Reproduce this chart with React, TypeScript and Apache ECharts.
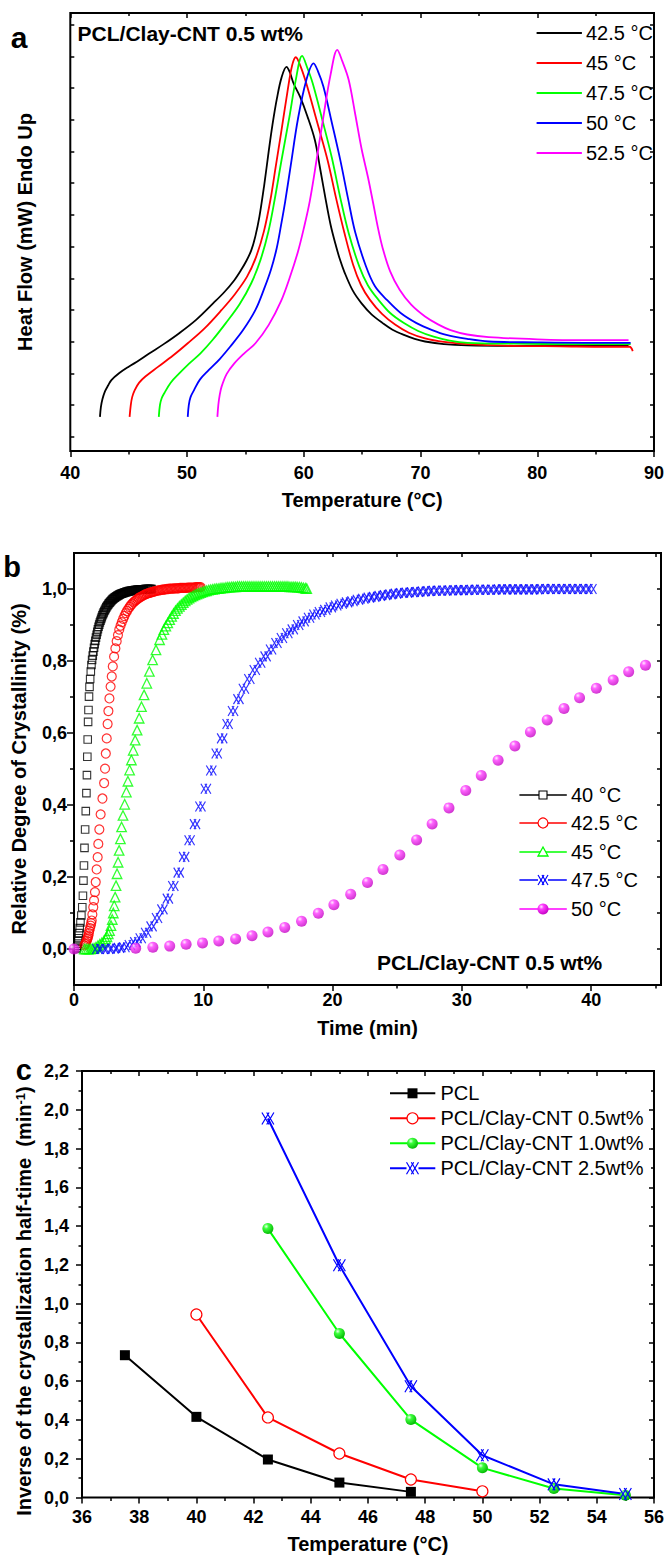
import React, { useEffect, useRef } from 'react';
import * as echarts from 'echarts';

const FONT = "'Liberation Sans', Arial, Helvetica, sans-serif";

// ---------- Panel a : DSC curves (arbitrary heat-flow units) ----------
const aNames = ['42.5 °C', '45 °C', '47.5 °C', '50 °C', '52.5 °C'];
const aColors = ['#000000', '#ff0000', '#00ff00', '#0000ff', '#ff00ff'];
const dsc425 = [[42.54,7.8],[42.62,10.0],[42.75,11.8],[42.97,13.6],[43.25,15.0],[43.52,16.2],[44.2,17.8],[44.97,19.2],[45.9,20.7],[46.79,22.3],[48.0,24.4],[49.33,26.9],[50.8,30.0],[52.23,33.7],[53.2,36.3],[54.05,39.0],[54.6,41.2],[55.1,43.5],[55.5,45.8],[55.85,49.0],[56.2,53.5],[56.6,60.5],[57.0,68.5],[57.32,74.5],[57.7,80.5],[58.1,85.3],[58.52,87.7],[58.8,86.5],[59.13,83.9],[59.68,80.9],[60.3,76.5],[60.95,71.0],[61.4,64.5],[61.85,57.8],[62.3,51.6],[62.76,46.8],[63.1,43.7],[63.49,40.8],[64.2,36.6],[64.95,33.7],[65.8,31.2],[66.76,29.2],[67.6,27.7],[68.58,26.5],[69.5,25.6],[70.39,25.0],[72.0,24.4],[74.02,24.1],[78.0,24.0],[82.0,24.0],[87.82,24.0]];
const dsc45 = [[45.08,7.8],[45.18,10.5],[45.3,12.3],[45.52,13.9],[45.9,15.6],[46.43,17.0],[47.51,19.2],[48.8,21.8],[50.06,24.6],[51.5,28.0],[52.96,32.2],[54.1,35.8],[55.14,39.8],[55.9,44.2],[56.59,50.2],[57.14,57.3],[57.6,65.0],[58.05,72.5],[58.6,82.0],[59.0,88.0],[59.32,89.9],[59.7,88.0],[60.22,83.9],[61.1,75.5],[62.04,66.4],[62.76,57.8],[63.49,49.7],[64.22,42.6],[64.9,37.9],[65.67,34.5],[66.7,31.3],[67.85,28.8],[69.0,27.0],[70.39,25.7],[72.0,24.9],[74.02,24.4],[78.0,24.0],[82.0,23.9],[86.0,23.8],[87.9,23.8],[88.18,22.8]];
const dsc475 = [[47.58,7.8],[47.68,10.5],[47.82,12.0],[48.05,13.2],[48.6,15.6],[49.33,17.7],[50.2,20.0],[51.15,22.3],[52.2,25.4],[53.32,29.2],[54.5,33.5],[55.5,38.3],[56.3,43.7],[56.96,50.0],[57.5,57.3],[58.1,66.5],[58.77,76.3],[59.3,84.5],[59.86,90.2],[60.3,87.5],[60.77,83.9],[61.6,75.5],[62.4,67.0],[63.13,57.8],[63.85,49.7],[64.76,42.1],[65.5,37.8],[66.4,34.5],[67.4,31.5],[68.58,29.2],[69.8,27.4],[71.12,26.1],[72.5,25.2],[74.02,24.7],[78.0,24.5],[83.0,24.4],[88.0,24.4]];
const dsc50 = [[50.06,7.8],[50.15,10.5],[50.3,12.3],[50.6,13.9],[51.1,16.3],[51.87,18.5],[52.8,21.0],[53.69,23.8],[54.8,27.6],[55.86,32.2],[56.6,37.0],[57.2,41.5],[57.68,46.3],[58.05,51.5],[58.41,57.0],[58.9,65.5],[59.5,75.8],[60.2,84.5],[60.84,88.5],[61.2,86.8],[61.68,83.2],[62.4,75.0],[63.13,66.4],[63.78,57.8],[64.4,50.0],[65.31,42.3],[66.1,37.6],[67.12,34.5],[68.3,31.5],[69.66,29.2],[71.0,27.6],[72.21,26.5],[74.0,25.6],[75.84,25.0],[80.0,24.8],[84.0,24.7],[88.0,24.7]];
const dsc525 = [[52.6,7.8],[52.68,10.5],[52.8,12.8],[52.96,14.7],[53.4,17.6],[54.05,20.0],[54.9,22.3],[55.86,24.6],[57.0,28.8],[58.05,34.2],[58.8,39.6],[59.5,45.5],[60.0,50.8],[60.51,57.0],[61.1,66.5],[61.68,76.3],[62.3,86.0],[62.87,91.6],[63.3,89.0],[63.85,84.7],[64.4,77.0],[64.95,69.0],[65.5,62.5],[65.95,56.5],[66.35,51.0],[66.76,46.3],[67.4,41.0],[68.21,36.8],[69.2,33.4],[70.39,30.7],[71.5,28.9],[72.57,27.6],[74.0,26.6],[75.84,26.0],[80.0,25.5],[84.0,25.3],[87.82,25.3]];
const aData = [dsc425, dsc45, dsc475, dsc50, dsc525];
const aXTicks = [40, 50, 60, 70, 80, 90];
const aYTicks = [3.3, 10.5, 17.7, 25.0, 32.2, 39.4, 46.7, 53.9, 61.2, 68.4, 75.6, 82.9, 90.1, 97.3];

// ---------- Panel b : relative crystallinity vs time ----------
const bNames = ['40 °C', '42.5 °C', '45 °C', '47.5 °C', '50 °C'];
const cry40 = [[0.20,0.000],[0.23,0.004],[0.26,0.009],[0.29,0.015],[0.32,0.022],[0.35,0.030],[0.39,0.044],[0.44,0.058],[0.50,0.074],[0.57,0.093],[0.64,0.116],[0.69,0.148],[0.73,0.190],[0.77,0.232],[0.81,0.281],[0.86,0.332],[0.91,0.383],[0.96,0.433],[1.00,0.483],[1.03,0.534],[1.06,0.582],[1.09,0.631],[1.12,0.664],[1.16,0.701],[1.20,0.728],[1.25,0.750],[1.30,0.771],[1.35,0.789],[1.40,0.803],[1.45,0.815],[1.50,0.826],[1.55,0.837],[1.60,0.847],[1.65,0.856],[1.70,0.865],[1.75,0.873],[1.80,0.881],[1.85,0.888],[1.90,0.895],[1.95,0.901],[2.00,0.907],[2.05,0.912],[2.10,0.917],[2.15,0.922],[2.20,0.927],[2.25,0.931],[2.30,0.935],[2.35,0.939],[2.40,0.942],[2.45,0.946],[2.50,0.949],[2.55,0.952],[2.60,0.955],[2.65,0.957],[2.70,0.960],[2.75,0.962],[2.80,0.964],[2.85,0.966],[2.90,0.968],[2.95,0.970],[3.00,0.972],[3.05,0.973],[3.10,0.975],[3.15,0.976],[3.20,0.977],[3.25,0.979],[3.30,0.980],[3.35,0.981],[3.40,0.982],[3.45,0.983],[3.50,0.984],[3.55,0.985],[3.60,0.986],[3.65,0.987],[3.70,0.987],[3.75,0.988],[3.80,0.989],[3.85,0.989],[3.90,0.990],[3.95,0.991],[4.00,0.991],[4.05,0.992],[4.10,0.992],[4.15,0.993],[4.20,0.993],[4.25,0.994],[4.30,0.994],[4.35,0.994],[4.40,0.995],[4.45,0.995],[4.50,0.995],[4.55,0.996],[4.60,0.996],[4.65,0.996],[4.70,0.997],[4.75,0.997],[4.80,0.997],[4.85,0.997],[4.90,0.998],[4.95,0.998],[5.00,0.998],[5.05,0.998],[5.10,0.998],[5.15,0.999],[5.20,0.999],[5.25,0.999],[5.30,0.999],[5.35,0.999],[5.40,0.999],[5.45,0.999],[5.50,1.000],[5.55,1.000],[5.60,1.000],[5.65,1.000],[5.70,1.000],[5.75,1.000],[5.80,1.000],[5.85,1.000],[5.90,1.000],[5.95,1.000],[6.00,1.000]];
const cry425 = [[0.80,0.010],[0.87,0.014],[0.93,0.018],[0.98,0.023],[1.03,0.028],[1.07,0.032],[1.11,0.037],[1.15,0.044],[1.18,0.051],[1.24,0.058],[1.29,0.065],[1.33,0.072],[1.37,0.079],[1.42,0.096],[1.49,0.116],[1.55,0.135],[1.62,0.158],[1.68,0.186],[1.75,0.221],[1.83,0.255],[1.88,0.292],[1.96,0.332],[2.06,0.374],[2.20,0.418],[2.33,0.461],[2.40,0.501],[2.46,0.543],[2.53,0.585],[2.60,0.625],[2.66,0.661],[2.74,0.696],[2.83,0.729],[2.92,0.757],[3.0,0.785],[3.1,0.812],[3.2,0.835],[3.3,0.855],[3.4,0.872],[3.5,0.887],[3.6,0.898],[3.7,0.908],[3.8,0.917],[3.9,0.925],[4.0,0.933],[4.1,0.939],[4.2,0.945],[4.3,0.950],[4.4,0.955],[4.5,0.959],[4.6,0.963],[4.7,0.966],[4.8,0.969],[4.9,0.972],[5.0,0.975],[5.1,0.977],[5.2,0.979],[5.3,0.981],[5.4,0.983],[5.5,0.985],[5.6,0.986],[5.7,0.988],[5.8,0.989],[5.9,0.990],[6.0,0.991],[6.1,0.992],[6.2,0.993],[6.3,0.994],[6.4,0.995],[6.5,0.996],[6.6,0.996],[6.7,0.997],[6.8,0.998],[6.9,0.998],[7.0,0.999],[7.1,0.999],[7.2,1.000],[7.3,1.000],[7.4,1.001],[7.5,1.001],[7.6,1.001],[7.7,1.001],[7.8,1.002],[7.9,1.002],[8.0,1.002],[8.1,1.002],[8.2,1.003],[8.3,1.003],[8.4,1.003],[8.5,1.003],[8.6,1.003],[8.7,1.003],[8.8,1.004],[8.9,1.004],[9.0,1.004],[9.1,1.004],[9.2,1.004],[9.3,1.004],[9.4,1.005],[9.5,1.005],[9.6,1.005],[9.7,1.005],[9.8,1.005]];
const cry45 = [[0.80,0.000],[0.95,0.000],[1.10,0.000],[1.25,0.000],[1.40,0.001],[1.55,0.002],[1.70,0.005],[1.85,0.009],[2.00,0.013],[2.15,0.017],[2.30,0.022],[2.45,0.028],[2.55,0.034],[2.65,0.042],[2.75,0.051],[2.86,0.065],[2.96,0.082],[3.04,0.100],[3.11,0.120],[3.18,0.144],[3.25,0.176],[3.33,0.209],[3.41,0.241],[3.49,0.274],[3.59,0.306],[3.68,0.339],[3.79,0.371],[3.92,0.402],[4.05,0.436],[4.17,0.466],[4.30,0.497],[4.44,0.525],[4.58,0.552],[4.73,0.580],[4.88,0.608],[5.04,0.641],[5.22,0.673],[5.42,0.706],[5.63,0.738],[5.83,0.771],[6.08,0.803],[6.34,0.831],[6.62,0.859],[6.80,0.874],[6.95,0.887],[7.10,0.897],[7.25,0.906],[7.40,0.915],[7.55,0.924],[7.70,0.932],[7.85,0.940],[8.00,0.946],[8.15,0.952],[8.30,0.957],[8.45,0.962],[8.60,0.967],[8.75,0.971],[8.90,0.975],[9.05,0.978],[9.20,0.981],[9.35,0.984],[9.50,0.986],[9.65,0.988],[9.80,0.990],[9.95,0.992],[10.10,0.994],[10.25,0.995],[10.40,0.997],[10.55,0.998],[10.70,0.999],[10.85,1.000],[11.00,1.001],[11.15,1.001],[11.30,1.002],[11.45,1.003],[11.60,1.003],[11.75,1.004],[11.90,1.005],[12.05,1.005],[12.20,1.006],[12.35,1.006],[12.50,1.006],[12.65,1.007],[12.80,1.007],[12.95,1.007],[13.10,1.007],[13.25,1.007],[13.40,1.007],[13.55,1.007],[13.70,1.007],[13.85,1.007],[14.00,1.007],[14.15,1.007],[14.30,1.007],[14.45,1.007],[14.60,1.007],[14.75,1.007],[14.90,1.007],[15.05,1.007],[15.20,1.007],[15.35,1.007],[15.50,1.007],[15.65,1.007],[15.80,1.007],[15.95,1.007],[16.10,1.007],[16.25,1.007],[16.40,1.007],[16.55,1.007],[16.70,1.006],[16.85,1.006],[17.00,1.006],[17.15,1.006],[17.30,1.005],[17.45,1.005],[17.60,1.004],[17.75,1.003],[17.90,1.002],[18.00,1.001]];
const cry475 = [[1.80,0.000],[2.22,0.000],[2.64,0.000],[3.06,0.001],[3.48,0.003],[3.90,0.005],[4.32,0.011],[4.74,0.019],[5.16,0.030],[5.58,0.045],[6.00,0.063],[6.42,0.086],[6.84,0.110],[7.26,0.140],[7.68,0.175],[8.10,0.212],[8.52,0.256],[8.94,0.302],[9.36,0.347],[9.78,0.396],[10.20,0.445],[10.62,0.496],[11.04,0.543],[11.46,0.585],[11.88,0.625],[12.30,0.661],[12.72,0.694],[13.14,0.723],[13.56,0.750],[13.98,0.775],[14.40,0.795],[14.82,0.813],[15.24,0.832],[15.66,0.850],[16.08,0.864],[16.50,0.877],[16.92,0.888],[17.34,0.900],[17.76,0.910],[18.18,0.920],[18.60,0.929],[19.02,0.936],[19.44,0.942],[19.86,0.949],[20.28,0.954],[20.70,0.959],[21.12,0.963],[21.54,0.966],[21.96,0.970],[22.38,0.973],[22.80,0.976],[23.22,0.978],[23.64,0.981],[24.06,0.983],[24.48,0.985],[24.90,0.987],[25.32,0.989],[25.74,0.990],[26.16,0.991],[26.58,0.992],[27.00,0.993],[27.42,0.994],[27.84,0.995],[28.26,0.995],[28.68,0.996],[29.10,0.996],[29.52,0.997],[29.94,0.997],[30.36,0.997],[30.78,0.998],[31.20,0.998],[31.62,0.998],[32.04,0.998],[32.46,0.998],[32.88,0.999],[33.30,0.999],[33.72,0.999],[34.14,0.999],[34.56,0.999],[34.98,0.999],[35.40,0.999],[35.82,0.999],[36.24,1.000],[36.66,1.000],[37.08,1.000],[37.50,1.000],[37.92,1.000],[38.34,1.000],[38.76,1.000],[39.18,1.000],[39.60,1.000],[40.02,1.000]];
const cry50 = [[0,0],[4.77,0.002],[6.1,0.005],[7.4,0.008],[8.67,0.013],[9.94,0.017],[11.2,0.022],[12.5,0.028],[13.77,0.037],[15.0,0.047],[16.3,0.060],[17.6,0.077],[18.9,0.099],[20.1,0.123],[21.4,0.152],[22.7,0.185],[23.9,0.221],[25.2,0.261],[26.5,0.303],[27.7,0.347],[29.0,0.392],[30.3,0.440],[31.5,0.482],[32.8,0.524],[34.1,0.564],[35.3,0.603],[36.6,0.636],[37.9,0.668],[39.1,0.698],[40.4,0.724],[41.7,0.747],[42.9,0.770],[44.2,0.788]];
const bXMajor = [0, 10, 20, 30, 40];
const bXMinor = [5, 15, 25, 35, 45];
const bYMajor = [0, 0.2, 0.4, 0.6, 0.8, 1.0];
const bYMinor = [0.1, 0.3, 0.5, 0.7, 0.9];

// ---------- Panel c : inverse half-time vs temperature ----------
const cNames = ['PCL', 'PCL/Clay-CNT 0.5wt%', 'PCL/Clay-CNT 1.0wt%', 'PCL/Clay-CNT 2.5wt%'];
const invPCL = [[37.5,0.734],[40,0.416],[42.5,0.196],[45,0.077],[47.5,0.029]];
const inv05 = [[40,0.944],[42.5,0.413],[45,0.227],[47.5,0.093],[50,0.032]];
const inv10 = [[42.5,1.387],[45,0.846],[47.5,0.402],[50,0.153],[52.5,0.046],[55,0.012]];
const inv25 = [[42.5,1.955],[45,1.198],[47.5,0.574],[50,0.218],[52.5,0.068],[55,0.018]];

const CROSS = 'path://M0,0L6,10M6,0L0,10M4,0L10,10M10,0L4,10';
const comma = (v: number) => v.toFixed(1).replace('.', ',');

const ball = (c0: string, c1: string, c2: string) =>
  new echarts.graphic.RadialGradient(0.35, 0.3, 0.75, [
    { offset: 0, color: c0 },
    { offset: 0.3, color: c1 },
    { offset: 1, color: c2 },
  ]);

const tickStyle = { color: '#000', width: 1.5 };
const labelStyle = (margin: number) => ({ fontFamily: FONT, fontWeight: 'bold' as const, fontSize: 18, color: '#000', margin });
const nameStyle = { fontFamily: FONT, fontWeight: 'bold' as const, fontSize: 20, color: '#000' };

function plainAxis(extra: any) {
  return {
    type: 'value',
    axisLine: { show: false, onZero: false },
    splitLine: { show: false },
    minorSplitLine: { show: false },
    ...extra,
  };
}

function txt(x: number, y: number, text: string, font: string, align = 'left', extra: any = {}) {
  return {
    type: 'text', x, y, z: 100, ...extra,
    style: { text, font, fill: '#000', align, verticalAlign: 'middle', textAlign: align, textVerticalAlign: 'middle' },
  };
}
function seg(x1: number, x2: number, y: number, color: string, w: number) {
  return { type: 'line', z: 100, shape: { x1, y1: y, x2, y2: y }, style: { stroke: color, lineWidth: w } };
}
function crossMark(cx: number, cy: number, s: number, color: string) {
  const h = s / 2, a = s * 0.6 - h, b = s * 0.4 - h;
  const ls = [
    [cx - h, cy - h, cx + a, cy + h], [cx + a, cy - h, cx - h, cy + h],
    [cx + b, cy - h, cx + h, cy + h], [cx + h, cy - h, cx + b, cy + h],
  ];
  return {
    type: 'group', z: 101,
    children: ls.map(([x1, y1, x2, y2]) => ({ type: 'line', z: 101, shape: { x1, y1, x2, y2 }, style: { stroke: color, lineWidth: 1.2 } })),
  };
}

export default function App() {
  const ref = useRef<HTMLDivElement>(null);
  useEffect(() => {
    document.body.style.margin = '0';
    if (!ref.current) return;
    const chart = echarts.init(ref.current, undefined, { renderer: 'svg' });

    const grids = [
      { left: 70.3, top: 13, width: 593.5, height: 438 },
      { left: 74, top: 553, width: 587, height: 432 },
      { left: 82, top: 1071, width: 581, height: 426.5 },
    ].map((g) => ({ ...g, show: true, borderColor: '#000', borderWidth: 2, backgroundColor: 'transparent', containLabel: false }));

    const xAxis = [
      plainAxis({ gridIndex: 0, position: 'bottom', min: 40, max: 90, interval: 10,
        axisTick: { show: true, inside: false, length: 6, lineStyle: tickStyle },
        minorTick: { show: true, splitNumber: 2, length: 3.5, lineStyle: tickStyle },
        axisLabel: { ...labelStyle(13), customValues: aXTicks },
        name: 'Temperature (°C)', nameLocation: 'middle', nameGap: 39, nameTextStyle: nameStyle }),
      plainAxis({ gridIndex: 0, position: 'top', min: 40, max: 90, interval: 10,
        axisTick: { show: true, inside: true, length: 5, lineStyle: tickStyle },
        minorTick: { show: true, splitNumber: 2, length: 3, lineStyle: tickStyle },
        axisLabel: { show: false } }),
      plainAxis({ gridIndex: 1, position: 'bottom', min: 0, max: 45.4,
        axisTick: { show: true, inside: false, length: 6, lineStyle: tickStyle, customValues: bXMajor },
        axisLabel: { ...labelStyle(6), customValues: bXMajor },
        name: 'Time (min)', nameLocation: 'middle', nameGap: 33, nameTextStyle: nameStyle }),
      plainAxis({ gridIndex: 1, position: 'bottom', min: 0, max: 45.4,
        axisTick: { show: true, inside: false, length: 3.5, lineStyle: tickStyle, customValues: bXMinor },
        axisLabel: { show: false } }),
      plainAxis({ gridIndex: 1, position: 'top', min: 0, max: 45.4,
        axisTick: { show: true, inside: true, length: 4, lineStyle: tickStyle, customValues: [...bXMajor, ...bXMinor] },
        axisLabel: { show: false } }),
      plainAxis({ gridIndex: 2, position: 'bottom', min: 36, max: 56, interval: 2,
        axisTick: { show: true, inside: false, length: 6, lineStyle: tickStyle },
        minorTick: { show: true, splitNumber: 2, length: 3.5, lineStyle: tickStyle },
        axisLabel: labelStyle(10.5),
        name: 'Temperature (°C)', nameLocation: 'middle', nameGap: 36, nameTextStyle: nameStyle }),
      plainAxis({ gridIndex: 2, position: 'top', min: 36, max: 56, interval: 2,
        axisTick: { show: true, inside: true, length: 5, lineStyle: tickStyle },
        minorTick: { show: true, splitNumber: 2, length: 3, lineStyle: tickStyle },
        axisLabel: { show: false } }),
    ];

    const yAxis = [
      plainAxis({ gridIndex: 0, position: 'left', min: 0, max: 100,
        axisTick: { show: true, inside: true, length: 4, lineStyle: tickStyle, customValues: aYTicks },
        axisLabel: { show: false } }),
      plainAxis({ gridIndex: 0, position: 'right', min: 0, max: 100,
        axisTick: { show: true, inside: true, length: 4, lineStyle: tickStyle, customValues: aYTicks },
        axisLabel: { show: false } }),
      plainAxis({ gridIndex: 1, position: 'left', min: -0.1, max: 1.1,
        axisTick: { show: true, inside: false, length: 7, lineStyle: tickStyle, customValues: bYMajor },
        axisLabel: { ...labelStyle(7), customValues: bYMajor, formatter: comma } }),
      plainAxis({ gridIndex: 1, position: 'left', min: -0.1, max: 1.1,
        axisTick: { show: true, inside: false, length: 4, lineStyle: tickStyle, customValues: bYMinor },
        axisLabel: { show: false } }),
      plainAxis({ gridIndex: 1, position: 'right', min: -0.1, max: 1.1,
        axisTick: { show: true, inside: true, length: 4, lineStyle: tickStyle, customValues: [...bYMajor, ...bYMinor] },
        axisLabel: { show: false } }),
      plainAxis({ gridIndex: 2, position: 'left', min: 0, max: 2.2, interval: 0.2,
        axisTick: { show: true, inside: false, length: 6, lineStyle: tickStyle },
        minorTick: { show: true, splitNumber: 2, length: 3.5, lineStyle: tickStyle },
        axisLabel: { ...labelStyle(13), formatter: comma } }),
      plainAxis({ gridIndex: 2, position: 'right', min: 0, max: 2.2, interval: 0.2,
        axisTick: { show: true, inside: true, length: 5, lineStyle: tickStyle },
        minorTick: { show: true, splitNumber: 2, length: 3, lineStyle: tickStyle },
        axisLabel: { show: false } }),
    ];

    const magBall = ball('#ffe8ff', '#ff3cff', '#c000c0');
    const grnBall = ball('#eaffea', '#3cff3c', '#00b400');
    const clear = 'rgba(255,255,255,0)';

    const series: any[] = [];
    aData.forEach((d, i) => {
      series.push({
        type: 'line', name: aNames[i], xAxisIndex: 0, yAxisIndex: 0, data: d,
        showSymbol: false, smooth: 0.35, lineStyle: { color: aColors[i], width: 1.8 }, itemStyle: { color: aColors[i] },
      });
    });
    const bStyles = [
      { data: cry40, symbol: 'rect', size: 7.5, item: { color: clear, borderColor: '#000', borderWidth: 1.1 } },
      { data: cry425, symbol: 'circle', size: 9, item: { color: clear, borderColor: '#ff0000', borderWidth: 1.2 } },
      { data: cry45, symbol: 'triangle', size: 9.5, item: { color: clear, borderColor: '#00ff00', borderWidth: 1.3 } },
      { data: cry475, symbol: CROSS, size: 10, item: { color: clear, borderColor: '#0000ff', borderWidth: 1.2 } },
      { data: cry50, symbol: 'circle', size: 11, item: { color: magBall } },
    ];
    bStyles.forEach((s, i) => {
      series.push({
        type: 'scatter', name: bNames[i], xAxisIndex: 2, yAxisIndex: 2, data: s.data,
        symbol: s.symbol, symbolSize: s.size, itemStyle: s.item,
      });
    });
    const cStyles = [
      { data: invPCL, color: '#000000', symbol: 'rect', size: 10, item: { color: '#000' } },
      { data: inv05, color: '#ff0000', symbol: 'circle', size: 11, item: { color: '#ffffff', borderColor: '#ff0000', borderWidth: 1.2 } },
      { data: inv10, color: '#00ff00', symbol: 'circle', size: 11, item: { color: grnBall } },
      { data: inv25, color: '#0000ff', symbol: CROSS, size: 12, item: { color: clear, borderColor: '#0000ff', borderWidth: 1.2 } },
    ];
    cStyles.forEach((s, i) => {
      series.push({
        type: 'line', name: cNames[i], xAxisIndex: 5, yAxisIndex: 5, data: s.data,
        symbol: s.symbol, symbolSize: s.size, showSymbol: true, itemStyle: s.item,
        lineStyle: { color: s.color, width: 2 },
      });
    });

    const boldF = (n: number) => `bold ${n}px ${FONT}`;
    const regF = (n: number) => `${n}px ${FONT}`;
    const graphic: any[] = [];
    graphic.push(txt(19, 37, 'a', boldF(30), 'center'));
    graphic.push(txt(12, 567, 'b', boldF(29), 'center'));
    graphic.push(txt(23.7, 1070, 'c', boldF(29), 'center'));
    graphic.push(txt(77.6, 33, 'PCL/Clay-CNT 0.5 wt%', boldF(21)));
    graphic.push(txt(377, 962, 'PCL/Clay-CNT 0.5 wt%', boldF(21)));
    graphic.push(txt(25, 232, 'Heat Flow (mW) Endo Up', boldF(20), 'center', { rotation: Math.PI / 2 }));
    graphic.push(txt(19, 769, 'Relative Degree of Crystallinity (%)', boldF(20), 'center', { rotation: Math.PI / 2 }));
    graphic.push({
      type: 'text', x: 24, y: 1301, rotation: Math.PI / 2, z: 100,
      style: {
        text: 'Inverse of the crystallization half-time  (min{s|-1})',
        font: boldF(20), fill: '#000', align: 'center', verticalAlign: 'middle', textAlign: 'center', textVerticalAlign: 'middle',
        rich: { s: { font: boldF(13), fill: '#000', verticalAlign: 'top', fontFamily: FONT, fontWeight: 'bold', fontSize: 13 } },
      },
    });
    const aRows = [33, 63, 93, 123, 153];
    aNames.forEach((n, i) => {
      graphic.push(seg(536.6, 581.9, aRows[i], aColors[i], 2));
      graphic.push(txt(586, aRows[i], n, regF(20)));
    });
    const bRows = [795, 823, 852, 880, 909];
    const bx = 543;
    bNames.forEach((n, i) => {
      graphic.push(seg(519.4, 566.8, bRows[i], aColors[i], 1.6));
      graphic.push(txt(571, bRows[i], n, regF(20)));
    });
    graphic.push({ type: 'rect', z: 101, shape: { x: bx - 4, y: bRows[0] - 4, width: 8, height: 8 }, style: { fill: '#fff', stroke: '#000', lineWidth: 1.1 } });
    graphic.push({ type: 'circle', z: 101, shape: { cx: bx, cy: bRows[1], r: 5 }, style: { fill: '#fff', stroke: '#ff0000', lineWidth: 1.2 } });
    graphic.push({ type: 'polygon', z: 101, shape: { points: [[bx, bRows[2] - 5], [bx + 5, bRows[2] + 4], [bx - 5, bRows[2] + 4]] }, style: { fill: '#fff', stroke: '#00ff00', lineWidth: 1.3 } });
    graphic.push({ type: 'rect', z: 100.5, shape: { x: bx - 5, y: bRows[3] - 5, width: 10, height: 10 }, style: { fill: '#fff', lineWidth: 0 } });
    graphic.push(crossMark(bx, bRows[3], 10, '#0000ff'));
    graphic.push({ type: 'circle', z: 101, shape: { cx: bx, cy: bRows[4], r: 5.5 }, style: { fill: ball('#ffe8ff', '#ff3cff', '#c000c0') } });
    const cRows = [1093.3, 1118.3, 1143.3, 1168.3];
    const cx = 412.5;
    cNames.forEach((n, i) => {
      graphic.push(seg(390, 435.3, cRows[i], cStyles[i].color, 2));
      graphic.push(txt(440.5, cRows[i], n, regF(20)));
    });
    graphic.push({ type: 'rect', z: 101, shape: { x: cx - 5, y: cRows[0] - 5, width: 10, height: 10 }, style: { fill: '#000' } });
    graphic.push({ type: 'circle', z: 101, shape: { cx, cy: cRows[1], r: 5.5 }, style: { fill: '#fff', stroke: '#ff0000', lineWidth: 1.2 } });
    graphic.push({ type: 'circle', z: 101, shape: { cx, cy: cRows[2], r: 5.5 }, style: { fill: ball('#eaffea', '#3cff3c', '#00b400') } });
    graphic.push({ type: 'rect', z: 100.5, shape: { x: cx - 6, y: cRows[3] - 6, width: 12, height: 12 }, style: { fill: '#fff', lineWidth: 0 } });
    graphic.push(crossMark(cx, cRows[3], 12, '#0000ff'));

    chart.setOption({
      animation: false,
      backgroundColor: '#ffffff',
      textStyle: { fontFamily: FONT },
      grid: grids,
      xAxis,
      yAxis,
      series,
      graphic,
    });
    return () => chart.dispose();
  }, []);
  return <div ref={ref} style={{ width: 667, height: 1555 }} />;
}
